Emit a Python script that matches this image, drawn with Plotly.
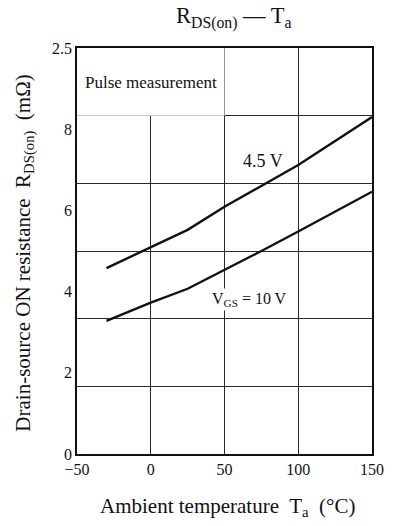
import plotly.graph_objects as go

# Ambient temperature (°C) and on-resistance (mΩ) for each gate voltage
temp_45v = [-30, 0, 25, 50, 77, 100, 150]
rds_45v = [4.58, 5.10, 5.52, 6.09, 6.65, 7.12, 8.30]

temp_10v = [-30, 0, 25, 50, 75, 100, 150]
rds_10v = [3.28, 3.73, 4.07, 4.53, 5.00, 5.48, 6.46]

y_tickvals = [0, 2, 4, 6, 8, 10]
y_ticktext = ["0", "2", "4", "6", "8", "2.5"]
x_tickvals = [-50, 0, 50, 100, 150]
x_ticktext = ["\u221250", "0", "50", "100", "150"]

SERIF = "Liberation Serif, Times New Roman, serif"
INK = "#111111"

fig = go.Figure()
for xs, ys in [(temp_45v, rds_45v), (temp_10v, rds_10v)]:
    fig.add_trace(go.Scatter(x=xs, y=ys, mode="lines",
                             line=dict(color=INK, width=2.4),
                             showlegend=False, hoverinfo="skip"))

# placeholder trace on the grid axis so it renders
fig.add_trace(go.Scatter(x=[None], y=[None], yaxis="y2", showlegend=False))

fig.update_layout(
    width=396, height=526,
    margin=dict(l=77, r=15, t=48, b=72),
    paper_bgcolor="white", plot_bgcolor="white",
    font=dict(family=SERIF, size=16, color=INK),
    xaxis=dict(range=[-50, 150], tickvals=x_tickvals, ticktext=x_ticktext,
               showgrid=True, gridcolor="#2a2a2a", gridwidth=1,
               showline=True, linecolor=INK, linewidth=1.5, mirror=True,
               ticks="", zeroline=False, tickfont=dict(size=16)),
    yaxis=dict(range=[0, 10], tickvals=y_tickvals, ticktext=y_ticktext,
               showgrid=False, showline=True, linecolor=INK, linewidth=1.5,
               mirror=True, ticks="", zeroline=False, tickfont=dict(size=16)),
    yaxis2=dict(range=[0, 6], dtick=1, overlaying="y", showgrid=True,
                gridcolor="#2a2a2a", gridwidth=1, showticklabels=False,
                zeroline=False, showline=False, ticks=""),
)

# blank band behind the measurement note
fig.add_shape(type="rect", xref="x", yref="y", x0=-50, x1=50, y0=10 * 5 / 6, y1=10,
              fillcolor="white", line=dict(width=0), layer="between")

fig.add_annotation(x=0, y=9.16, xref="x", yref="y", text="Pulse measurement",
                   showarrow=False, font=dict(size=17))
fig.add_annotation(x=76, y=7.22, xref="x", yref="y", text="4.5 V",
                   showarrow=False, font=dict(size=18))
fig.add_annotation(x=67, y=3.80, xref="x", yref="y",
                   text="V<sub>GS</sub> = 10 V", showarrow=False,
                   bgcolor="white", font=dict(size=16))

fig.add_annotation(x=(238 - 77) / 304, y=(454 - 18) / 406, xref="paper", yref="paper",
                   text="R<sub>DS(on)</sub> \u2014 T<sub>a</sub>", showarrow=False,
                   font=dict(size=22.5), yanchor="middle")

fig.add_annotation(x=(232 - 77) / 304, y=(454 - 507) / 406, xref="paper", yref="paper",
                   text="Ambient temperature&nbsp; T<sub>a</sub>&nbsp; (°C)", showarrow=False,
                   font=dict(size=21), yanchor="middle")
fig.add_annotation(x=(22 - 77) / 304, y=(454 - 253) / 406, xref="paper", yref="paper",
                   text="Drain-source ON resistance&nbsp; R<sub>DS(on)</sub>&nbsp; (m\u03a9)",
                   showarrow=False, textangle=-90, font=dict(size=21),
                   xanchor="center", yanchor="middle")

fig.write_html("out.html")
